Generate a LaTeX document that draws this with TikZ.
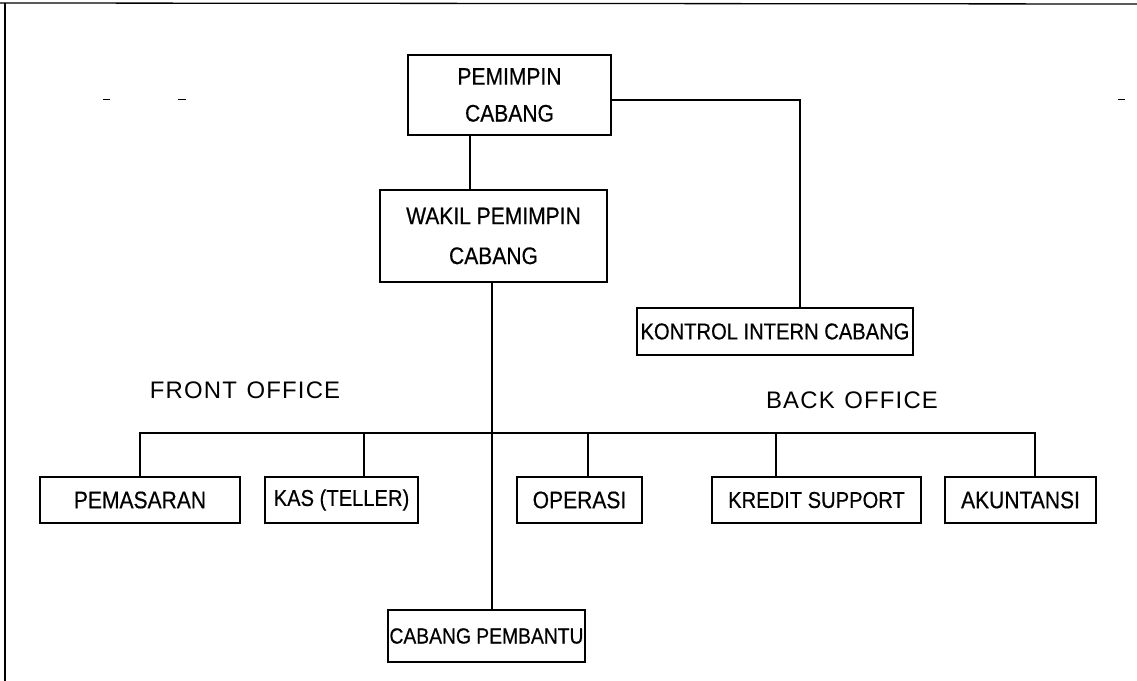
\documentclass[tikz,border=0pt]{standalone}
\usepackage{fontspec}
\setmainfont{Liberation Sans}[FakeStretch=0.88,FakeBold=0.5]
\newfontfamily\labelfont{Liberation Sans}[LetterSpace=5]
\begin{document}
\begin{tikzpicture}[x=1bp,y=-1bp,
  box/.style={draw, line width=2.2bp, rectangle, inner sep=0pt, align=center,
    font=\fontsize{24}{37}\selectfont},
  conn/.style={line width=2bp},
  frame/.style={line width=1.3bp},
  grp/.style={font=\labelfont\fontsize{24}{28}\selectfont, inner sep=0pt},
  speck/.style={line width=1bp}]
\useasboundingbox (0,0) rectangle (1137,681);
% frame
\draw[frame] (0,3) -- (1137,4);
\draw[frame] (5,3) -- (5,681);
% nodes
\node[box, minimum width=203bp, minimum height=80bp] (pc) at (509.5,95) {PEMIMPIN\\CABANG};
\node[box, minimum width=227bp, minimum height=92bp, font=\fontsize{24}{40}\selectfont] (wk) at (493.5,236) {WAKIL PEMIMPIN\\CABANG};
\node[box, minimum width=276bp, minimum height=47bp, font=\fontsize{23}{30}\selectfont] (kic) at (775,331.5) {KONTROL INTERN CABANG};
\node[box, minimum width=200bp, minimum height=46bp] (pm) at (140,500) {PEMASARAN};
\node[box, minimum width=153bp, minimum height=46bp, font=\fontsize{23}{30}\selectfont] (ks) at (341.5,500) {KAS (TELLER)};
\node[box, minimum width=125bp, minimum height=46bp] (op) at (579.5,500) {OPERASI};
\node[box, minimum width=209bp, minimum height=46bp, font=\fontsize{23}{30}\selectfont] (kr) at (816.5,500) {KREDIT SUPPORT};
\node[box, minimum width=151bp, minimum height=46bp] (ak) at (1020.5,500) {AKUNTANSI};
\node[box, minimum width=197bp, minimum height=52bp, font=\fontsize{22}{30}\selectfont] (cp) at (486.5,636) {CABANG PEMBANTU};
\node[grp] (fo) at (245,390) {FRONT\hspace{0.4em}OFFICE};
\node[grp] (bo) at (852,400) {BACK\hspace{0.4em}OFFICE};
% connector x positions
\coordinate (vA) at (470,0);
\coordinate (vB) at (492,0);
\coordinate (kA) at (800,0);
\coordinate (busY) at (0,433);
\coordinate (d1) at (140,0);
\coordinate (d2) at (364,0);
\coordinate (d3) at (588,0);
\coordinate (d4) at (776,0);
\coordinate (d5) at (1035,0);
% connectors
\draw[conn] (pc.south -| vA) -- (wk.north -| vA);
\draw[conn] ([yshift=-5bp]pc.east) -| (kA |- kic.north);
\draw[conn] (wk.south -| vB) -- (cp.north -| vB);
\draw[conn] (pm.north -| d1) -- (d1 |- busY) -- (d5 |- busY) -- (ak.north -| d5);
\draw[conn] (ks.north -| d2) -- (d2 |- busY);
\draw[conn] (op.north -| d3) -- (d3 |- busY);
\draw[conn] (kr.north -| d4) -- (d4 |- busY);
% scan specks
\draw[speck] (103,100) -- (110,100);
\draw[speck] (178,100) -- (186,100);
\draw[speck] (748,100) -- (757,100);
\draw[speck] (1118,100) -- (1125,100);
\end{tikzpicture}
\end{document}
